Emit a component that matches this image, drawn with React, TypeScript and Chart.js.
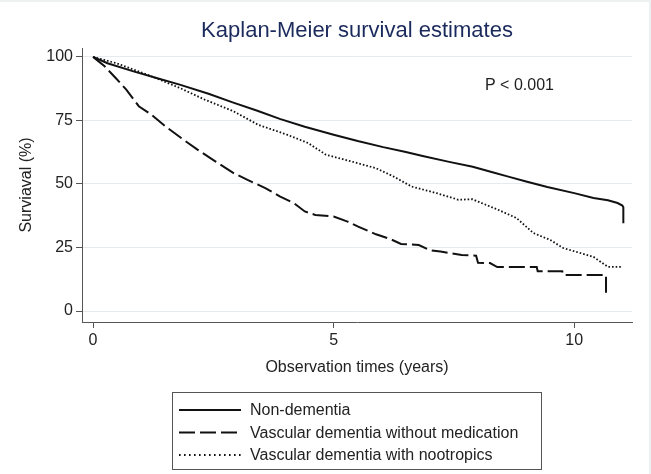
import { useEffect, useRef } from "react";
import { Chart, registerables } from "chart.js";

Chart.register(...registerables);

const chartTitle = "Kaplan-Meier survival estimates";
const xAxisTitle = "Observation times (years)";
const yAxisTitle = "Surviaval (%)";
const pValueText = "P < 0.001";
const seriesNames = [
  "Non-dementia",
  "Vascular dementia without medication",
  "Vascular dementia with nootropics",
];
const xTicks = [0, 5, 10];
const yTicks = [0, 25, 50, 75, 100];

const nonDementiaX = [0, 0.3, 0.84, 1.3, 1.8, 2.4, 2.9, 3.4, 3.88, 4.4, 5.0, 5.5, 6.03, 6.5, 6.85, 7.4, 7.89, 8.3, 8.63, 9.0, 9.44, 10.0, 10.4, 10.7, 10.9, 11.0, 11.02, 11.02];
const nonDementiaY = [100, 97.5, 94.3, 91.8, 89.1, 85.5, 82.1, 78.9, 75.6, 72.5, 69.4, 66.9, 64.5, 62.6, 61.0, 58.7, 56.8, 54.6, 52.9, 51.0, 48.8, 46.4, 44.5, 43.6, 42.5, 41.5, 40.8, 34.6];

const noMedicationX = [0, 0.24, 0.47, 0.69, 0.95, 1.21, 1.5, 1.88, 2.17, 2.54, 2.92, 3.21, 3.58, 3.88, 4.18, 4.4, 4.62, 5.0, 5.29, 5.51, 5.88, 6.18, 6.4, 6.77, 6.99, 7.22, 7.66, 7.96, 8.0, 8.25, 8.4, 9.22, 9.24, 9.75, 9.77, 10.66, 10.66];
const noMedicationY = [100, 96.3, 91.7, 87.1, 80.6, 77.3, 72.7, 67.4, 63.5, 58.9, 54.3, 51.6, 48.4, 45.1, 42.4, 39.2, 37.8, 37.2, 35.2, 33.2, 30.2, 28.3, 26.4, 26.0, 24.0, 23.4, 22.1, 21.8, 19.0, 18.9, 17.3, 17.3, 15.7, 15.7, 14.2, 14.2, 7.1];

const nootropicsX = [0, 0.47, 1.21, 1.8, 2.32, 2.92, 3.43, 4.03, 4.47, 4.84, 5.36, 5.88, 6.25, 6.62, 7.14, 7.59, 7.88, 8.4, 8.8, 9.15, 9.5, 9.77, 10.1, 10.4, 10.7, 11.0];
const nootropicsY = [100, 97.6, 92.4, 87.8, 83.2, 78.6, 73.3, 69.4, 66.1, 61.5, 58.9, 56.2, 52.9, 49.0, 46.4, 43.8, 44.0, 40.0, 36.6, 30.7, 28.0, 24.8, 23.0, 21.3, 17.4, 17.4];

const FONT = "'Liberation Sans', Arial, Helvetica, sans-serif";

const toPoints = (xs: number[], ys: number[]) => xs.map((x, i) => ({ x, y: ys[i] }));

export default function App() {
  const ref = useRef<HTMLCanvasElement>(null);

  useEffect(() => {
    const canvas = ref.current;
    if (!canvas) return;

    const lineStyles = [
      { dash: [] as number[], width: 2 },
      { dash: [16, 5], width: 2 },
      { dash: [1.6, 2], width: 1.8 },
    ];

    const overlay = {
      id: "overlay",
      beforeDraw(chart: any) {
        const c = chart.ctx as CanvasRenderingContext2D;
        c.save();
        c.fillStyle = "#ffffff";
        c.fillRect(0, 0, chart.width, chart.height);
        c.fillStyle = "#eef1f1";
        c.fillRect(0, 0, chart.width, 2);
        c.fillRect(chart.width - 2, 0, 2, chart.height);
        c.restore();
      },
      afterDraw(chart: any) {
        const c = chart.ctx as CanvasRenderingContext2D;
        const area = chart.chartArea;
        const cx = (area.left + area.right) / 2;
        c.save();
        // Title
        c.fillStyle = "#1b2a5c";
        c.font = `22px ${FONT}`;
        c.textAlign = "center";
        c.textBaseline = "middle";
        c.fillText(chartTitle, cx, 31);
        // P value
        c.fillStyle = "#222";
        c.font = `16px ${FONT}`;
        c.textAlign = "left";
        c.fillText(pValueText, 485, 86);
        // X axis title
        c.textAlign = "center";
        c.fillText(xAxisTitle, cx, 368);
        // Y axis title
        c.save();
        c.translate(27, (area.top + area.bottom) / 2);
        c.rotate(-Math.PI / 2);
        c.fillText(yAxisTitle, 0, 0);
        c.restore();
        // Legend box
        c.strokeStyle = "#555";
        c.lineWidth = 1;
        c.setLineDash([]);
        c.strokeRect(172.5, 392.5, 369, 77);
        const rowsY = [410, 432.5, 455];
        seriesNames.forEach((name, i) => {
          const st = lineStyles[i];
          c.strokeStyle = "#111";
          c.lineWidth = st.width;
          c.setLineDash(i === 2 ? [1.6, 3.4] : st.dash);
          c.beginPath();
          c.moveTo(179, rowsY[i]);
          c.lineTo(241, rowsY[i]);
          c.stroke();
          c.setLineDash([]);
          c.fillStyle = "#222";
          c.textAlign = "left";
          c.textBaseline = "middle";
          c.fillText(name, 250, rowsY[i] + 1);
        });
        c.restore();
      },
    };

    const tickFont = { family: FONT, size: 16 };

    const chart = new Chart(canvas, {
      type: "line",
      data: {
        datasets: [
          {
            label: seriesNames[0],
            data: toPoints(nonDementiaX, nonDementiaY),
            borderColor: "#111",
            borderWidth: lineStyles[0].width,
            pointRadius: 0,
            tension: 0,
            fill: false,
          },
          {
            label: seriesNames[1],
            data: toPoints(noMedicationX, noMedicationY),
            borderColor: "#111",
            borderWidth: lineStyles[1].width,
            borderDash: lineStyles[1].dash,
            pointRadius: 0,
            tension: 0,
            fill: false,
          },
          {
            label: seriesNames[2],
            data: toPoints(nootropicsX, nootropicsY),
            borderColor: "#111",
            borderWidth: lineStyles[2].width,
            borderDash: lineStyles[2].dash,
            pointRadius: 0,
            tension: 0,
            fill: false,
          },
        ],
      },
      options: {
        responsive: false,
        animation: false,
        layout: { padding: { left: 0, right: 19, top: 48, bottom: 112 } },
        plugins: {
          legend: { display: false },
          title: { display: false },
          tooltip: { enabled: false },
        },
        scales: {
          x: {
            type: "linear",
            min: -0.23,
            max: 11.2,
            afterBuildTicks: (s: any) => {
              s.ticks = xTicks.map((v) => ({ value: v }));
            },
            afterFit: (s: any) => {
              s.height = 40;
            },
            grid: {
              drawOnChartArea: false,
              drawTicks: true,
              tickLength: 6,
              tickColor: "#555",
            },
            border: { display: true, color: "#555", width: 1 },
            ticks: { font: tickFont, color: "#222", padding: 3, maxRotation: 0 },
          },
          y: {
            type: "linear",
            min: -4.3,
            max: 103.5,
            afterBuildTicks: (s: any) => {
              s.ticks = yTicks.map((v) => ({ value: v }));
            },
            afterFit: (s: any) => {
              s.width = 82;
            },
            grid: {
              color: "#e4eaed",
              drawTicks: true,
              tickLength: 6,
              tickColor: "#555",
            },
            border: { display: true, color: "#555", width: 1 },
            ticks: { font: tickFont, color: "#222", padding: 3 },
          },
        },
      },
      plugins: [overlay],
    });

    return () => chart.destroy();
  }, []);

  return (
    <div
      style={{
        position: "absolute",
        left: 0,
        top: 0,
        width: 651,
        height: 474,
        background: "#fff",
      }}
    >
      <canvas ref={ref} width={651} height={474} style={{ display: "block" }} />
    </div>
  );
}
